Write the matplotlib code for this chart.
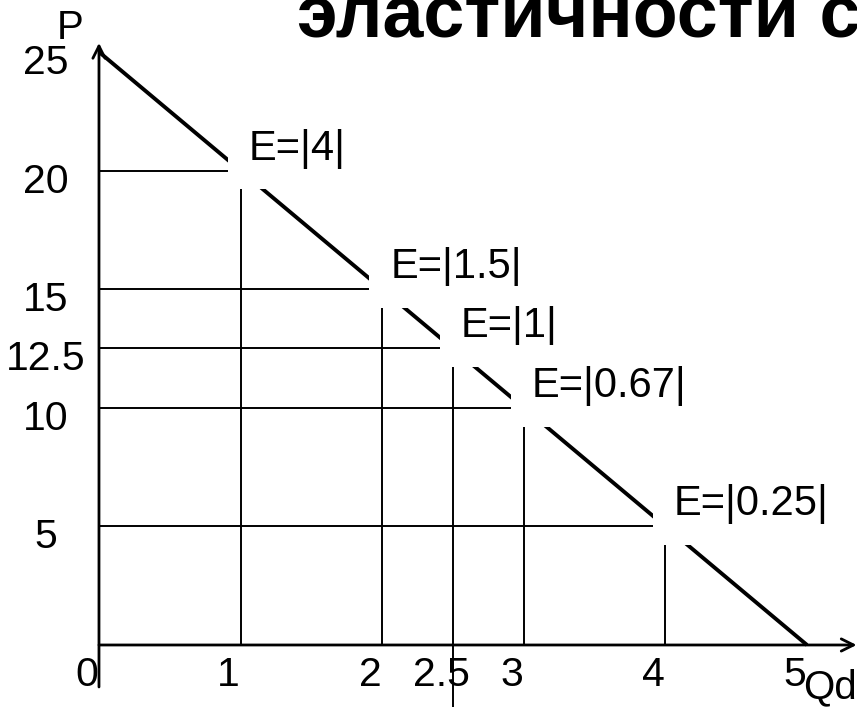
import matplotlib.pyplot as plt

plt.rcParams['font.family'] = ['Liberation Sans', 'DejaVu Sans']

# demand line P = 25 - 5Q
demandQ = [0, 5]
demandP = [25, 0]

# points on the line with elasticity labels
pointQ = [1, 2, 2.5, 3, 4]
pointP = [20, 15, 12.5, 10, 5]
elastLabels = ["E=|4|", "E=|1.5|", "E=|1|", "E=|0.67|", "E=|0.25|"]

xTicks = [0, 1, 2, 2.5, 3, 4, 5]
xTickLabels = ["0", "1", "2", "2.5", "3", "4", "5"]
yTicks = [25, 20, 15, 12.5, 10, 5]
yTickLabels = ["25", "20", "15", "12.5", "10", "5"]

titleText = "эластичности спроса"

px = 0.72  # one pixel in points at dpi 100

fig = plt.figure(figsize=(8.57, 7.07), dpi=100)
ax = fig.add_axes([0, 0, 1, 1])
ax.set_xlim(-0.699, 5.353)
ax.set_ylim(-2.614, 27.19)
ax.axis('off')

# guide lines
for q, p in zip(pointQ, pointP):
    ax.plot([0, q], [p, p], color='black', lw=1.4, zorder=1)
    bottom = ax.get_ylim()[0] if q == 2.5 else 0
    ax.plot([q, q], [bottom, p], color='black', lw=1.4, zorder=1)

ax.plot(demandQ, demandP, color='black', lw=2.8, zorder=2, solid_capstyle='butt')

# axes with arrows
arrow = dict(arrowstyle='->', lw=2, color='black', shrinkA=0, shrinkB=0, mutation_scale=22)
ax.annotate('', xy=(0, 25.38), xytext=(0, -1.77), arrowprops=arrow, zorder=3)
ax.annotate('', xy=(5.35, 0), xytext=(0, 0), arrowprops=arrow, zorder=3)

# elasticity labels with white boxes that cut the lines
for q, p, lbl in zip(pointQ, pointP, elastLabels):
    ax.annotate(lbl, (q, p), xytext=(8 * px, 11 * px), textcoords='offset points',
                ha='left', va='baseline', fontsize=30, zorder=5,
                bbox=dict(boxstyle='square,pad=0.5', fc='white', ec='none'))

for x, lbl in zip(xTicks, xTickLabels):
    ax.annotate(lbl, (x, 0), xytext=(-12 * px, -41 * px), textcoords='offset points',
                ha='center', va='baseline', fontsize=29.5, zorder=6)

for y, lbl in zip(yTicks, yTickLabels):
    ax.annotate(lbl, (0, y), xytext=(-53 * px, -22 * px), textcoords='offset points',
                ha='center', va='baseline', fontsize=29.5, zorder=6)

ax.annotate("P", (0, 25), xytext=(-29 * px, 13 * px), textcoords='offset points',
            ha='center', va='baseline', fontsize=29)
ax.annotate("Qd", (5, 0), xytext=(23 * px, -53 * px), textcoords='offset points',
            ha='center', va='baseline', fontsize=29)

fig.text(297 / 857, 1 - 37 / 707, titleText, ha='left', va='baseline',
         fontsize=53, fontweight='bold')

fig.savefig('out.png', dpi=100)
